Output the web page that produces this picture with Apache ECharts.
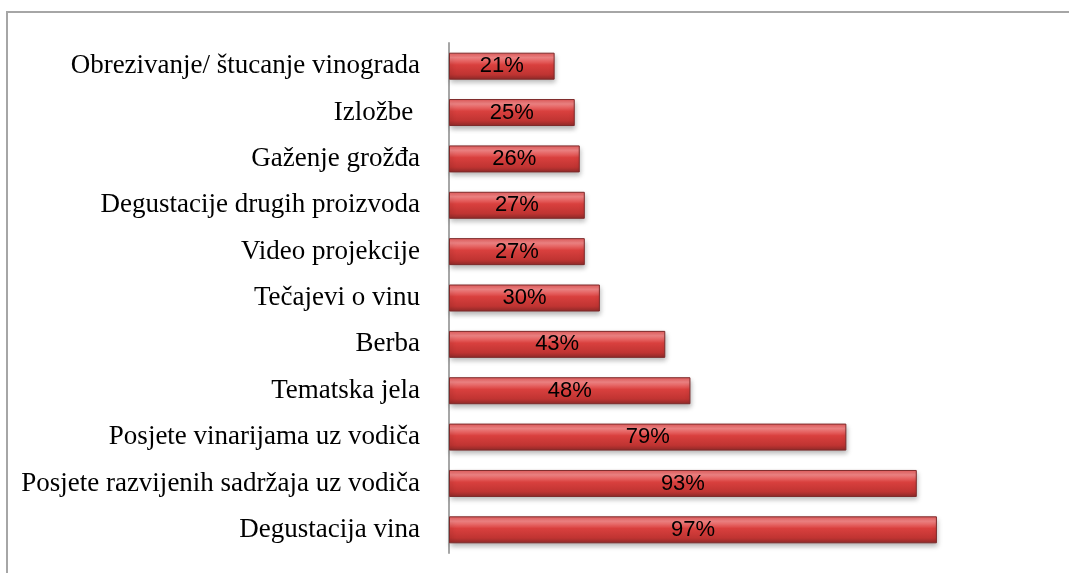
<!DOCTYPE html>
<html>
<head>
<meta charset="utf-8">
<script src="https://cdn.jsdelivr.net/npm/echarts@6/dist/echarts.min.js"></script>
<style>
  html, body { margin: 0; padding: 0; background: #fff; }
  #frame {
    position: absolute; left: 6px; top: 11px; width: 1100px; height: 600px;
    border-left: 2px solid #a6a6a6; border-top: 2px solid #a6a6a6;
  }
  #chart { position: absolute; left: 0; top: 0; width: 1069px; height: 573px; }
</style>
</head>
<body>
<div id="frame"></div>
<div id="chart"></div>
<script>
// kategorije odozgo prema dolje
const categories = [
  "Obrezivanje/ štucanje vinograda",
  "Izložbe ",
  "Gaženje grožđa",
  "Degustacije drugih proizvoda",
  "Video projekcije",
  "Tečajevi o vinu",
  "Berba",
  "Tematska jela",
  "Posjete vinarijama uz vodiča",
  "Posjete razvijenih sadržaja uz vodiča",
  "Degustacija vina"
];
// postotci
const values = [21, 25, 26, 27, 27, 30, 43, 48, 79, 93, 97];

const chart = echarts.init(document.getElementById("chart"));

// crveni "3D" gradijent
const barColor = new echarts.graphic.LinearGradient(0, 0, 0, 1, [
  { offset: 0, color: "#e35a5a" },
  { offset: 0.18, color: "#f48686" },
  { offset: 0.45, color: "#d9403e" },
  { offset: 0.8, color: "#c03432" },
  { offset: 1, color: "#8e2a29" }
]);

chart.setOption({
  animation: false,
  grid: { left: 449, top: 43, width: 503, height: 510, containLabel: false },
  xAxis: {
    type: "value",
    min: 0,
    max: 100,
    show: false
  },
  yAxis: {
    type: "category",
    inverse: true,
    data: categories,
    axisLine: { show: true, lineStyle: { color: "#a6a6a6", width: 2 } },
    axisTick: { show: false },
    axisLabel: {
      margin: 29,
      color: "#000",
      fontFamily: "Liberation Serif",
      fontSize: 27
    }
  },
  series: [{
    type: "bar",
    data: values,
    barWidth: 27,
    itemStyle: {
      color: barColor,
      borderColor: "#7d2a2a",
      borderWidth: 1,
      shadowBlur: 5,
      shadowOffsetY: 3,
      shadowOffsetX: 1,
      shadowColor: "rgba(0,0,0,0.3)"
    },
    label: {
      show: true,
      position: "inside",
      formatter: "{c}%",
      color: "#000",
      fontFamily: "Liberation Sans",
      fontSize: 22
    }
  }]
});
</script>
</body>
</html>
